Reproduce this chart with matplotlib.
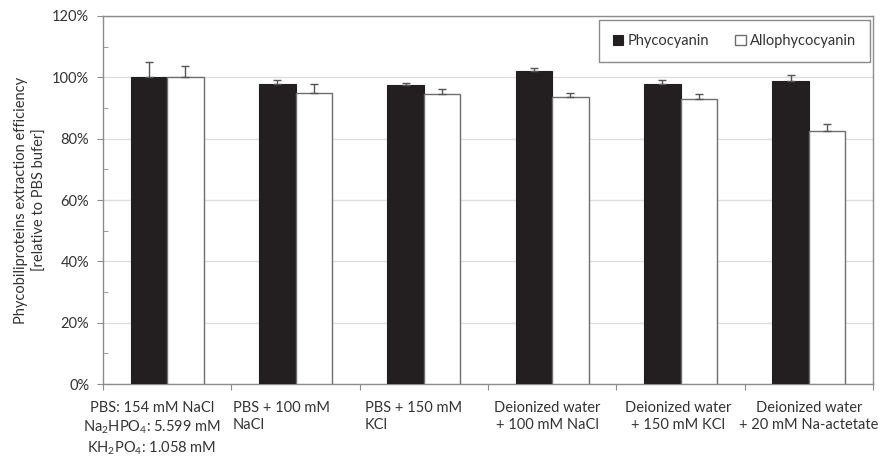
import numpy as np
import matplotlib
matplotlib.use("Agg")
import matplotlib.pyplot as plt
from matplotlib.ticker import MultipleLocator, PercentFormatter

plt.rcParams['font.family'] = ['Lato', 'DejaVu Sans']
plt.rcParams['mathtext.fontset'] = 'custom'
plt.rcParams['mathtext.rm'] = 'Lato'
plt.rcParams['mathtext.it'] = 'Lato:italic'
plt.rcParams['mathtext.bf'] = 'Lato:bold'

# data (percent, relative to PBS buffer)
categories = [
    'PBS: 154 mM NaCl\nNa$_2$HPO$_4$: 5.599 mM\nKH$_2$PO$_4$: 1.058 mM',
    'PBS + 100 mM\nNaCl',
    'PBS + 150 mM\nKCl',
    'Deionized water\n+ 100 mM NaCl',
    'Deionized water\n+ 150 mM KCl',
    'Deionized water\n+ 20 mM Na-actetate',
]
phycocyanin = [100.0, 97.9, 97.6, 102.1, 97.9, 98.7]
phycocyanin_err = [4.9, 1.1, 0.6, 0.8, 1.3, 2.2]
allophycocyanin = [100.0, 94.9, 94.6, 93.6, 93.0, 82.4]
allophycocyanin_err = [3.6, 3.0, 1.5, 1.2, 1.7, 2.5]

# label placement tweaks (x offset from category centre, alignment)
label_pos = [(-0.12, 'center'), (-0.49, 'left'), (-0.46, 'left'),
             (-0.04, 'center'), (-0.02, 'center'), (0.0, 'center')]

text_col = '#333333'
frame_col = '#8c8c8c'
fs = 10.5

fig = plt.figure(figsize=(8.82, 4.57), dpi=100)
ax = fig.add_axes([0.1168, 0.1597, 0.873, 0.8053])

x = np.arange(len(categories))
w = 0.285
ax.bar(x - w / 2, phycocyanin, w, color='#231f20', edgecolor='#231f20',
       linewidth=0.8, label='Phycocyanin', zorder=3,
       yerr=[np.zeros(len(x)), phycocyanin_err],
       error_kw=dict(ecolor='#555555', elinewidth=1.0, capsize=3, capthick=1.0))
ax.bar(x + w / 2, allophycocyanin, w, color='white', edgecolor='#6e6e6e',
       linewidth=1.0, label='Allophycocyanin', zorder=3,
       yerr=[np.zeros(len(x)), allophycocyanin_err],
       error_kw=dict(ecolor='#555555', elinewidth=1.0, capsize=3, capthick=1.0))

ax.set_xlim(-0.5, len(categories) - 0.5)
ax.set_ylim(0, 120)
ax.yaxis.set_major_locator(MultipleLocator(20))
ax.yaxis.set_minor_locator(MultipleLocator(10))
ax.yaxis.set_major_formatter(PercentFormatter(decimals=0))
ax.grid(axis='y', which='major', color='#dedede', linewidth=1.0, zorder=0)
ax.tick_params(axis='y', which='major', direction='out', length=4,
               color=frame_col, labelsize=fs, labelcolor=text_col, pad=6)
ax.tick_params(axis='y', which='minor', direction='in', length=3.5, color=frame_col)

ax.set_xticks(np.arange(len(categories) + 1) - 0.5)
ax.set_xticklabels([])
ax.tick_params(axis='x', which='major', direction='out', length=4, color=frame_col)

for i, (lab, (dx, ha)) in enumerate(zip(categories, label_pos)):
    ax.text(i + dx, -0.045, lab, transform=ax.get_xaxis_transform(),
            ha=ha, va='top', multialignment=ha, fontsize=fs,
            color=text_col, linespacing=1.28)

for s in ax.spines.values():
    s.set_color(frame_col)
    s.set_linewidth(1.0)

ax.set_ylabel('Phycobiliproteins extraction efficiency\n[relative to PBS bufer]',
              fontsize=fs, color=text_col, labelpad=4, linespacing=1.4)

leg = ax.legend(loc='upper right', bbox_to_anchor=(0.996, 0.988), ncol=2,
                fontsize=fs, frameon=True, fancybox=False, borderpad=0.95,
                handlelength=0.7, handleheight=0.7, handletextpad=0.3,
                columnspacing=1.8, borderaxespad=0)
leg.get_frame().set_edgecolor('#6e6e6e')
leg.get_frame().set_linewidth(1.0)
for t in leg.get_texts():
    t.set_color(text_col)

fig.savefig('out.png', dpi=100)
